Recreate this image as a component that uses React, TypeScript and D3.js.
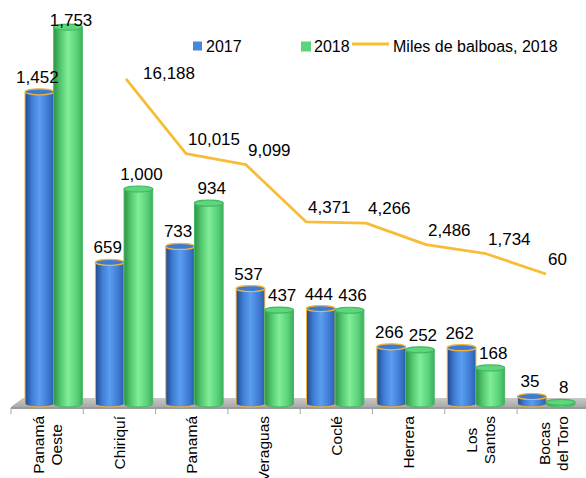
import React, { useEffect, useRef } from "react";
import * as d3 from "d3";

const categories = ["Panamá Oeste", "Chiriquí", "Panamá", "Veraguas", "Coclé", "Herrera", "Los Santos", "Bocas del Toro"];
const categoryLines = [["Panamá", "Oeste"], ["Chiriquí"], ["Panamá"], ["Veraguas"], ["Coclé"], ["Herrera"], ["Los", "Santos"], ["Bocas", "del Toro"]];
const values2017 = [1452, 659, 733, 537, 444, 266, 262, 35];
const values2018 = [1753, 1000, 934, 437, 436, 252, 168, 8];
const milesBalboas2018 = [16188, 10015, 9099, 4371, 4266, 2486, 1734, 60];
const seriesNames = ["2017", "2018", "Miles de balboas, 2018"];

const W = 586;
const H = 478;
const FONT = "'Liberation Sans', Arial, sans-serif";

export default function App() {
  const ref = useRef<SVGSVGElement>(null);

  useEffect(() => {
    const svg = d3.select(ref.current);
    svg.selectAll("*").remove();
    const fmt = d3.format(",");

    const defs = svg.append("defs");
    const grad = (id: string, stops: [number, string][]) => {
      const g = defs.append("linearGradient").attr("id", id).attr("x1", "0").attr("x2", "1").attr("y1", "0").attr("y2", "0");
      stops.forEach(([o, c]) => g.append("stop").attr("offset", `${o}%`).attr("stop-color", c));
    };
    grad("gBlue", [[0, "#22498F"], [25, "#3F7FD6"], [50, "#5B9DF0"], [80, "#3E7BD2"], [100, "#2C5FB0"]]);
    grad("gGreen", [[0, "#2C9246"], [25, "#56C971"], [50, "#80EE98"], [80, "#5AD27A"], [100, "#3FAE5C"]]);
    const fg = defs.append("linearGradient").attr("id", "gFloor").attr("x1", "0").attr("x2", "0").attr("y1", "0").attr("y2", "1");
    fg.append("stop").attr("offset", "0%").attr("stop-color", "#C8C8C8");
    fg.append("stop").attr("offset", "100%").attr("stop-color", "#A9A9A9");

    const xTick = d3.scaleBand<string>().domain(categories).range([11, 589.4]).padding(0);
    const xBar = d3.scaleBand<string>().domain(categories).range([18.5, 581.5]).paddingInner(0.185).paddingOuter(0.0925);
    const y = d3.scaleLinear().domain([0, 2000]).range([404, -26]);
    const xLine = d3.scalePoint<string>().domain(categories).range([126, 546]);
    const yLine = d3.scaleLinear().domain([0, 20000]).range([274.7, 32.9]);

    // floor
    const fl = xTick.range()[0];
    const fr = xTick.range()[1];
    svg.append("path")
      .attr("d", `M${fl + 12},398 L${fr},398 L${fr + 12},407 L${fl},407 Z`)
      .attr("fill", "url(#gFloor)");
    svg.append("path")
      .attr("d", `M${fl},407 L${fr + 12},407 L${fr + 12},409 L${fl},409 Z`)
      .attr("fill", "#9A9A9A");

    // ticks
    const tickPos = categories.map((c) => xTick(c)!).concat([fr]);
    svg.append("g").selectAll("line").data(tickPos).join("line")
      .attr("x1", (d) => d).attr("x2", (d) => d)
      .attr("y1", 408).attr("y2", 414)
      .attr("stroke", "#A6A6A6").attr("stroke-width", 1);

    // bars
    const bw = xBar.bandwidth() / 2;
    const ry = 3;
    const cyl = (g: any, x0: number, w: number, v: number, fill: string, stroke: string, top: string, topStroke: string) => {
      const yt = y(v);
      const yb = y(0);
      g.append("path")
        .attr("d", `M${x0},${yt} L${x0},${yb} A${w / 2},${ry} 0 0 0 ${x0 + w},${yb} L${x0 + w},${yt} Z`)
        .attr("fill", fill).attr("stroke", stroke).attr("stroke-width", 1);
      g.append("ellipse")
        .attr("cx", x0 + w / 2).attr("cy", yt).attr("rx", w / 2).attr("ry", ry)
        .attr("fill", top).attr("stroke", topStroke).attr("stroke-width", 1.2);
    };
    const bars = svg.append("g");
    categories.forEach((c, i) => {
      const x0 = xBar(c)!;
      cyl(bars, x0, bw, values2017[i], "url(#gBlue)", "#F2B53A", "#3E7CD3", "#F2B53A");
      cyl(bars, x0 + bw, bw, values2018[i], "url(#gGreen)", "#45B863", "#5ED67B", "#43B862");
    });

    // bar labels (pushed slightly apart, as the reference does)
    const lab = svg.append("g").attr("font-family", FONT).attr("font-size", 17).attr("fill", "#000").attr("text-anchor", "middle");
    categories.forEach((c, i) => {
      const x0 = xBar(c)!;
      [values2017[i], values2018[i]].forEach((v, k) => {
        lab.append("text")
          .attr("x", x0 + bw * k + bw / 2 + (k === 0 ? -2 : 3))
          .attr("y", Math.max(y(v) - 9, 26))
          .text(fmt(v));
      });
    });

    // category labels
    const cat = svg.append("g").attr("font-family", FONT).attr("font-size", 15.5).attr("fill", "#000");
    categories.forEach((c, i) => {
      const lines = categoryLines[i];
      const cx = xTick(c)! + xTick.bandwidth() / 2;
      const lh = 18;
      const n = lines.length;
      const texts = lines.map((ln, j) => {
        const lx = cx + (j - (n - 1) / 2) * lh;
        return cat.append("text")
          .attr("transform", `translate(${lx},416) rotate(-90)`)
          .attr("dy", "0.35em")
          .text(ln);
      });
      if (n === 1) {
        texts[0].attr("text-anchor", "end");
      } else {
        const maxLen = d3.max(texts, (t) => (t.node() as SVGTextElement).getComputedTextLength()) || 0;
        texts.forEach((t, j) => {
          const lx = cx + (j - (n - 1) / 2) * lh;
          t.attr("text-anchor", "middle").attr("transform", `translate(${lx},${416 + maxLen / 2}) rotate(-90)`);
        });
      }
    });

    // line
    const lineGen = d3.line<number>().x((_, i) => xLine(categories[i])!).y((d) => yLine(d));
    svg.append("path").datum(milesBalboas2018)
      .attr("d", lineGen)
      .attr("fill", "none").attr("stroke", "#F7BD37").attr("stroke-width", 2.8).attr("stroke-linejoin", "round");
    const ll = svg.append("g").attr("font-family", FONT).attr("font-size", 17).attr("fill", "#000");
    milesBalboas2018.forEach((v, i) => {
      const px = xLine(categories[i])!;
      const py = yLine(v);
      const [dx, dy] = i === 0 ? [17, 0] : [2, -9];
      ll.append("text").attr("x", px + dx).attr("y", py + dy).text(fmt(v));
    });

    // legend
    const lg = svg.append("g").attr("font-family", FONT).attr("font-size", 16).attr("fill", "#000");
    lg.append("rect").attr("x", 193).attr("y", 41.5).attr("width", 9).attr("height", 9).attr("fill", "#4A86D8");
    lg.append("text").attr("x", 206).attr("y", 51.5).text(seriesNames[0]);
    lg.append("rect").attr("x", 301).attr("y", 41.5).attr("width", 10).attr("height", 10).attr("fill", "#5ED47A");
    lg.append("text").attr("x", 314).attr("y", 51.5).text(seriesNames[1]);
    lg.append("line").attr("x1", 352).attr("x2", 389).attr("y1", 44).attr("y2", 44).attr("stroke", "#F7BD37").attr("stroke-width", 2.8);
    lg.append("text").attr("x", 393).attr("y", 51.5).text(seriesNames[2]);
  }, []);

  return (
    <svg
      ref={ref}
      width={W}
      height={H}
      viewBox={`0 0 ${W} ${H}`}
      style={{ position: "absolute", left: 0, top: 0, background: "#fff" }}
    />
  );
}
